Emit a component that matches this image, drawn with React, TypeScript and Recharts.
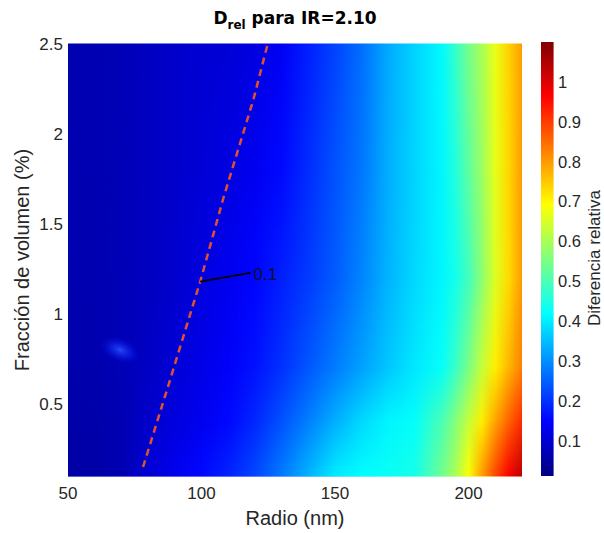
import React from "react";
import { ComposedChart, XAxis, YAxis, ReferenceArea, Line, Scatter, Bar } from "recharts";

// radius columns (nm) and volume-fraction rows (%) of the map
const radius = [50, 60, 70, 80, 90, 100, 110, 120, 130, 140, 150, 160, 170, 180, 190, 195, 200, 205, 210, 215, 220];
const fractions = [2.5, 1.8, 1.2, 0.7, 0.4, 0.1];

// relative difference, one array per row
const row25 = [0.065, 0.067, 0.07, 0.082, 0.094, 0.1, 0.105, 0.115, 0.137, 0.18, 0.22, 0.265, 0.33, 0.375, 0.415, 0.475, 0.545, 0.6, 0.67, 0.74, 0.795];
const row18 = [0.065, 0.066, 0.07, 0.082, 0.094, 0.104, 0.115, 0.133, 0.157, 0.195, 0.235, 0.275, 0.335, 0.375, 0.412, 0.455, 0.52, 0.585, 0.665, 0.735, 0.8];
const row12 = [0.063, 0.065, 0.07, 0.082, 0.095, 0.115, 0.132, 0.152, 0.18, 0.21, 0.245, 0.29, 0.34, 0.38, 0.41, 0.44, 0.49, 0.57, 0.655, 0.73, 0.8];
const row07 = [0.06, 0.062, 0.07, 0.085, 0.105, 0.122, 0.142, 0.166, 0.2, 0.24, 0.28, 0.32, 0.36, 0.395, 0.425, 0.48, 0.55, 0.63, 0.71, 0.77, 0.83];
const row04 = [0.055, 0.058, 0.066, 0.092, 0.113, 0.132, 0.156, 0.19, 0.235, 0.285, 0.335, 0.38, 0.41, 0.425, 0.5, 0.56, 0.63, 0.71, 0.79, 0.86, 0.92];
const row01 = [0.05, 0.055, 0.065, 0.103, 0.13, 0.155, 0.185, 0.225, 0.28, 0.34, 0.4, 0.42, 0.43, 0.445, 0.54, 0.6, 0.69, 0.8, 0.89, 0.97, 1.04];
const rows = [row25, row18, row12, row07, row04, row01];

// 0.1 contour (dashed) and its label
const contour = [
  { r: 78.1, f: 0.15 },
  { r: 87.1, f: 0.58 },
  { r: 99.5, f: 1.18 },
  { r: 108.3, f: 1.65 },
  { r: 119.4, f: 2.19 },
  { r: 124.6, f: 2.49 },
];
const leader = [
  { r: 99.5, f: 1.18 },
  { r: 118.3, f: 1.228 },
];
const contourLabel = [{ r: 119.5, f: 1.217, text: "0.1" }];
const spot = [{ r: 69.5, f: 0.8 }];

const xTicks = [50, 100, 150, 200];
const yTicks = [0.5, 1, 1.5, 2, 2.5];
const cbTicks = [0.1, 0.2, 0.3, 0.4, 0.5, 0.6, 0.7, 0.8, 0.9, 1];
const cbRange = [0.012, 1.1];
const cbData = [{ name: "cb", range: cbRange }];

const FONT = '"Liberation Sans", Arial, sans-serif';

function jetT(t: number) {
  const c = (x: number) => Math.round(255 * Math.min(1, Math.max(0, 1.5 - Math.abs(4 * t - x))));
  return `rgb(${c(3)},${c(2)},${c(1)})`;
}

function jet(v: number) {
  const t = Math.min(1, Math.max(0, (v - cbRange[0]) / (cbRange[1] - cbRange[0])));
  return jetT(t);
}

const XTitle = () => (
  <text x={295} y={525} textAnchor="middle" fontFamily={FONT} fontSize={20} fill="#262626">
    Radio (nm)
  </text>
);

const YTitle = () => (
  <text x={29} y={260} textAnchor="middle" fontFamily={FONT} fontSize={20} fill="#262626" transform="rotate(-90, 29, 260)">
    Fracción de volumen (%)
  </text>
);

const CbTitle = () => (
  <text x={70} y={258} textAnchor="middle" fontFamily={FONT} fontSize={17} fill="#262626" transform="rotate(-90, 70, 258)">
    Diferencia relativa
  </text>
);

const SpotShape = (p: any) => (
  <ellipse cx={p.cx} cy={p.cy} rx={21} ry={12} fill="url(#spotGrad)" transform={`rotate(22, ${p.cx}, ${p.cy})`} />
);

const LabelShape = (p: any) => (
  <text x={p.cx} y={p.cy} dominantBaseline="central" fontFamily={FONT} fontSize={17} fill="#10102a">
    {p.payload.text}
  </text>
);

const App: React.FC = () => {
  const tickStyle = { fill: "#262626", fontSize: 17, fontFamily: FONT };
  const bands = [];
  for (let k = 0; k < fractions.length - 1; k++) {
    const upper = fractions[k];
    const lower = fractions[k + 1];
    bands.push(
      <ReferenceArea
        key={`a${k}`}
        x1={50}
        x2={220}
        y1={lower}
        y2={upper}
        ifOverflow="visible"
        shape={(p: any) => (
          <rect x={p.x} y={p.y - 0.5} width={p.width} height={p.height + 1} fill={`url(#row${k})`} />
        )}
      />
    );
    bands.push(
      <ReferenceArea
        key={`b${k}`}
        x1={50}
        x2={220}
        y1={lower}
        y2={upper}
        ifOverflow="visible"
        shape={(p: any) => (
          <rect x={p.x} y={p.y - 0.5} width={p.width} height={p.height + 1} fill={`url(#row${k + 1})`} mask="url(#fadeMask)" />
        )}
      />
    );
  }

  return (
    <div style={{ position: "absolute", left: 0, top: 0, width: 604, height: 533, background: "#fff", overflow: "hidden" }}>
      <div
        style={{
          position: "absolute",
          left: 0,
          top: 8,
          width: 590,
          textAlign: "center",
          fontFamily: '"DejaVu Sans", sans-serif',
          fontWeight: "bold",
          fontSize: 17,
          lineHeight: "20px",
          color: "#000",
        }}
      >
        D<span style={{ fontSize: 12, position: "relative", top: 5 }}>rel</span> para IR=2.10
      </div>

      <div style={{ position: "absolute", left: 0, top: 0 }}>
        <ComposedChart width={604} height={533} margin={{ top: 44, right: 82, bottom: 0, left: 0 }}>
          <defs>
            {rows.map((row, k) => (
              <linearGradient key={k} id={`row${k}`} x1="0" y1="0" x2="1" y2="0">
                {radius.map((r, i) => (
                  <stop key={i} offset={(r - 50) / 170} stopColor={jet(row[i])} />
                ))}
              </linearGradient>
            ))}
            <linearGradient id="vfade" x1="0" y1="0" x2="0" y2="1">
              <stop offset="0" stopColor="#000" />
              <stop offset="1" stopColor="#fff" />
            </linearGradient>
            <mask id="fadeMask" maskUnits="objectBoundingBox" maskContentUnits="objectBoundingBox" x="0" y="0" width="1" height="1">
              <rect x="0" y="0" width="1" height="1" fill="url(#vfade)" />
            </mask>
            <radialGradient id="spotGrad">
              <stop offset="0" stopColor="rgb(45,85,255)" stopOpacity={0.85} />
              <stop offset="0.45" stopColor="rgb(25,55,250)" stopOpacity={0.5} />
              <stop offset="1" stopColor="rgb(0,20,230)" stopOpacity={0} />
            </radialGradient>
          </defs>
          <XAxis
            type="number"
            dataKey="r"
            domain={[50, 220]}
            ticks={xTicks}
            height={57}
            axisLine={false}
            tickLine={false}
            tickSize={0}
            tickMargin={11}
            tick={tickStyle}
            label={<XTitle />}
          />
          <YAxis
            type="number"
            dataKey="f"
            domain={[0.1, 2.5]}
            ticks={yTicks}
            width={68}
            axisLine={false}
            tickLine={false}
            tickSize={0}
            tickMargin={5}
            tick={tickStyle}
            label={<YTitle />}
          />
          {bands}
          <Scatter data={spot} shape={SpotShape} isAnimationActive={false} />
          <Line
            data={contour}
            dataKey="f"
            stroke="#e5502c"
            strokeWidth={2.5}
            strokeDasharray="7 5"
            dot={false}
            activeDot={false}
            isAnimationActive={false}
          />
          <Line data={leader} dataKey="f" stroke="#000" strokeWidth={1.8} dot={false} activeDot={false} isAnimationActive={false} />
          <Scatter data={contourLabel} shape={LabelShape} isAnimationActive={false} />
        </ComposedChart>
      </div>

      <div style={{ position: "absolute", left: 530, top: 0 }}>
        <ComposedChart width={74} height={533} data={cbData} margin={{ top: 42, right: 0, bottom: 57, left: 10 }} barCategoryGap={0}>
          <defs>
            <linearGradient id="cbGrad" x1="0" y1="0" x2="0" y2="1">
              {[1, 0.875, 0.625, 0.375, 0.125, 0].map((t) => (
                <stop key={t} offset={1 - t} stopColor={jetT(t)} />
              ))}
            </linearGradient>
          </defs>
          <XAxis dataKey="name" hide />
          <YAxis
            orientation="right"
            type="number"
            domain={cbRange}
            ticks={cbTicks}
            width={50}
            axisLine={false}
            tickLine={false}
            tickSize={0}
            tickMargin={4}
            tick={{ fill: "#262626", fontSize: 16.5, fontFamily: FONT }}
            label={<CbTitle />}
          />
          <Bar dataKey="range" fill="url(#cbGrad)" barSize={14} isAnimationActive={false} />
        </ComposedChart>
      </div>
    </div>
  );
};

export default App;
